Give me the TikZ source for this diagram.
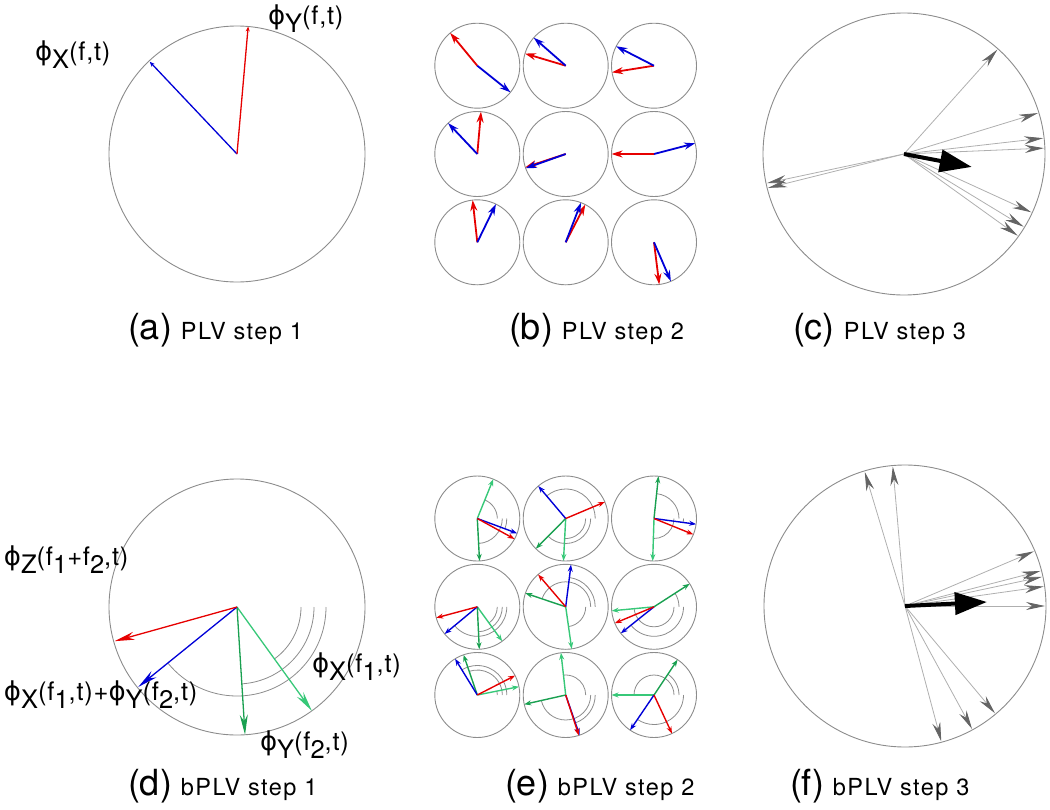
\documentclass[tikz,border=0pt]{standalone}
\usepackage{fontspec}
\setmainfont{TeX Gyre Heros}
\newfontfamily\hvs[LetterSpace=6]{TeX Gyre Heros}
\newfontfamily\hvp[LetterSpace=3]{TeX Gyre Heros}
\newfontfamily\dvs{DejaVu Sans}
\usetikzlibrary{arrows.meta,calc}
\definecolor{cred}{RGB}{230,0,0}
\definecolor{cblue}{RGB}{0,0,215}
\definecolor{cgl}{RGB}{55,200,120}
\definecolor{cgd}{RGB}{25,160,80}
\definecolor{ringc}{RGB}{140,140,140}
\definecolor{glin}{RGB}{175,175,175}
\definecolor{ghead}{RGB}{100,100,100}
\newcommand\vx[4]{\draw[#1] (#2) -- ++(#3:#4);}
\newcommand\arcx[3]{\draw[arcst] ($(#1)+(#3,0)$) arc[start angle=0,end angle=#2,radius=#3];}
\newcommand\pa[2]{{\fontsize{36}{40}\selectfont(#1)}\hspace{9pt}{\fontsize{23.5}{27}\selectfont\hvs #2}}
\newcommand\phs{{\fontsize{26}{30}\selectfont\dvs ϕ}}
\newcommand\lo[1]{\lower8pt\hbox{#1}}
\newcommand\pht[1]{{\fontsize{25.5}{30}\selectfont\hvp #1}}
\begin{document}
\begin{tikzpicture}[x=1pt,y=1pt,
  ring/.style={draw=ringc, line width=0.9pt},
  arcst/.style={draw=ringc, line width=0.8pt},
  lab/.style={anchor=base west, inner sep=0pt, outer sep=0pt},
  va/.style={line width=1.3pt, -{Stealth[length=5pt,width=4pt]}},
  vb/.style={line width=1.8pt, -{Stealth[length=11pt,width=7pt]}},
  vd/.style={line width=1.3pt, -{Stealth[length=20pt,width=8pt]}},
  ve/.style={line width=1.4pt, -{Stealth[length=7pt,width=5pt]}},
  gv/.style={draw=glin, line width=0.8pt, -{Stealth[length=19pt,width=8pt,color=ghead]}},
  bv/.style={draw=black, line width=4pt, -{Triangle[length=32pt,width=22pt]}},
]
\useasboundingbox (0,0) rectangle (1050,-809);
% ---------- centers ----------
\coordinate (A) at (237,-154);
\coordinate (C) at (904,-154);
\coordinate (D) at (237,-607);
\coordinate (F) at (905,-606);
\foreach \i/\xx in {1/477.3,2/565.7,3/654}{
  \foreach \j/\yb/\ye in {1/65.7/518.5,2/154/606.8,3/242.3/695}{
    \coordinate (B\j\i) at (\xx,-\yb);
    \coordinate (E\j\i) at (\xx,-\ye);
  }
}
% ---------- panel (a) ----------
\draw[ring] (A) circle[radius=128];
\vx{va,cblue}{A}{133.4}{127}
\vx{va,cred}{A}{85}{128}
\node[lab] (lax) at (35,-60) {\pht{\phs\lo{X}(f,t)}};
\node[lab] (lay) at (268,-24) {\pht{\phs\lo{Y}(f,t)}};
% ---------- panel (b) ----------
\foreach \n in {B11,B12,B13,B21,B22,B23,B31,B32,B33}{\draw[ring] (\n) circle[radius=42.5];}
\vx{vb,cred}{B11}{129.6}{42.5}\vx{vb,cblue}{B11}{-38.7}{42.5}
\vx{vb,cred}{B12}{163.4}{42.5}\vx{vb,cblue}{B12}{138.8}{42.5}
\vx{vb,cred}{B13}{-171}{42.5}\vx{vb,cblue}{B13}{152.8}{42.5}
\vx{vb,cred}{B21}{85}{42.5}\vx{vb,cblue}{B21}{133.4}{42.5}
\vx{vb,cred}{B22}{198.2}{42.5}\vx{vb,cblue}{B22}{199.6}{42.5}
\vx{vb,cred}{B23}{180}{42.5}\vx{vb,cblue}{B23}{14.6}{42.5}
\vx{vb,cred}{B31}{96.3}{42.5}\vx{vb,cblue}{B31}{64}{42.5}
\vx{vb,cred}{B32}{62.6}{42.5}\vx{vb,cblue}{B32}{68.9}{42.5}
\vx{vb,cred}{B33}{-82.9}{42.5}\vx{vb,cblue}{B33}{-66.6}{42.5}
% ---------- panel (c) ----------
\draw[ring] (C) circle[radius=141];
\foreach \a in {48.2,17,6.5,2.4,-24.6,-31.3,-35.7,192,194}{\vx{gv}{C}{\a}{140}}
\vx{bv}{C}{-10.8}{69}
% ---------- panel (d) ----------
\draw[ring] (D) circle[radius=128];
\arcx{D}{-54.2}{64}
\arcx{D}{-86.4}{77}
\arcx{D}{-140.6}{89}
\vx{vd,cgl}{D}{-54.2}{128}
\vx{vd,cgd}{D}{-86.4}{128}
\vx{vd,cblue}{D}{-141}{127}
\vx{vd,cred}{D}{-164.4}{127}
\node[lab] (ldz) at (4,-565) {\pht{\phs\lo{Z}(f\lo{1}+f\lo{2},t)}};
\node[lab] (ldxy) at (4,-700) {\pht{\phs\lo{X}(f\lo{1},t)+\phs\lo{Y}(f\lo{2},t)}};
\node[lab] (ldx) at (312,-672) {\pht{\phs\lo{X}(f\lo{1},t)}};
\node[lab] (ldy) at (260,-750) {\pht{\phs\lo{Y}(f\lo{2},t)}};
% ---------- panel (e) ----------
\foreach \n in {E11,E12,E13,E21,E22,E23,E31,E32,E33}{\draw[ring] (\n) circle[radius=42.5];}
% light green angle / dark green angle / blue / red
\foreach \n/\gl/\gd/\bl/\rd in {
  E11/67.9/-87/-20.4/-28.8,
  E12/-93/-134.7/130.2/22.9,
  E13/-91.8/84/-7.7/-22.1,
  E21/-54.1/-87.3/-140.3/-165,
  E22/-81.9/161.4/82.8/130.5,
  E23/-174.6/32.8/-141.4/-157.3,
  E31/11.3/108.9/121.5/27.2,
  E32/96.4/-167.3/-70.9/-72,
  E33/180/56.3/-124.2/-65}{
  \arcx{\n}{\gl}{20}
  \arcx{\n}{\gd}{25}
  \arcx{\n}{\bl}{29.5}
  \vx{ve,cgl}{\n}{\gl}{42.5}
  \vx{ve,cgd}{\n}{\gd}{42.5}
  \vx{ve,cblue}{\n}{\bl}{42.5}
  \vx{ve,cred}{\n}{\rd}{42.5}
}
% ---------- panel (f) ----------
\draw[ring] (F) circle[radius=141];
\foreach \a in {106.7,95,23,14.5,12,8,0,-50,-61.4,-75}{\vx{gv}{F}{\a}{140}}
\vx{bv}{F}{2.8}{82}
% ---------- captions ----------
\node[lab] (ca) at (128,-339) {\pa{a}{PLV step 1}};
\node[lab] (cb) at (509,-339) {\pa{b}{PLV step 2}};
\node[lab] (cc) at (793,-339) {\pa{c}{PLV step 3}};
\node[lab] (cd) at (128,-795) {\pa{d}{bPLV step 1}};
\node[lab] (ce) at (505,-795) {\pa{e}{bPLV step 2}};
\node[lab] (cf) at (790,-795) {\pa{f}{bPLV step 3}};
\end{tikzpicture}
\end{document}
